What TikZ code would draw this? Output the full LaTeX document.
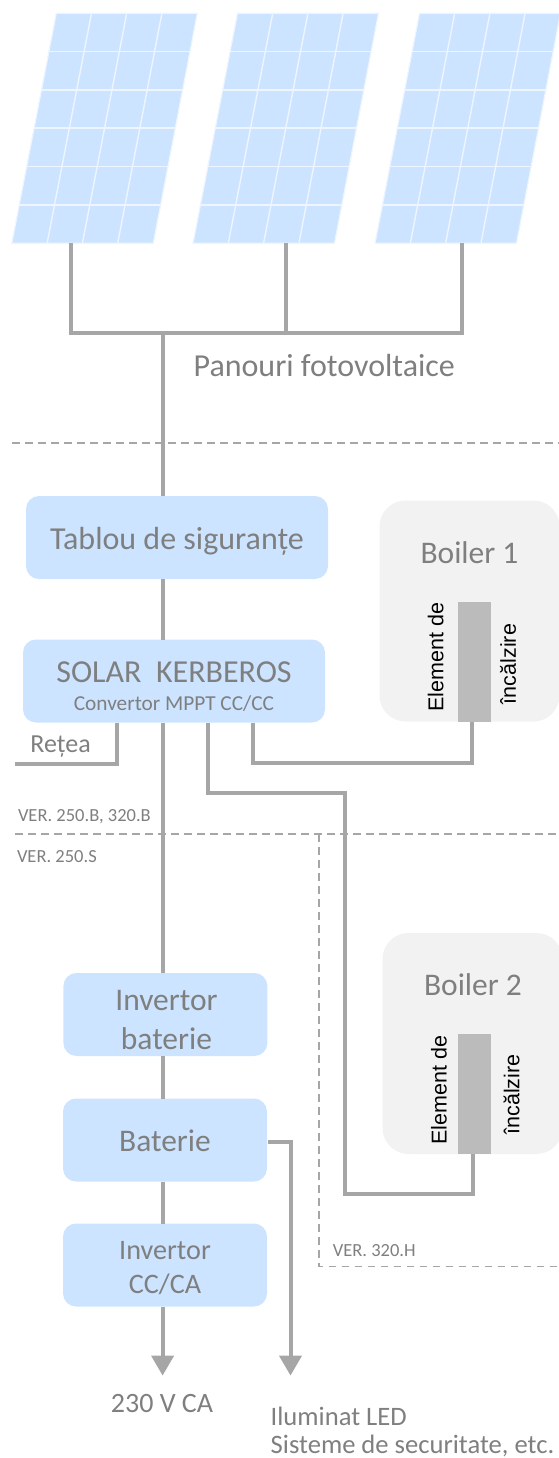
\documentclass[tikz,border=0pt]{standalone}
\usepackage{fontspec}
\setmainfont{Carlito}
\newfontfamily\elemfont{Liberation Sans}
\usetikzlibrary{arrows.meta}
\definecolor{panelblue}{HTML}{CCE4FF}
\definecolor{paneledge}{HTML}{EEF5FE}
\definecolor{wiregray}{HTML}{A6A6A6}
\definecolor{textgray}{HTML}{7F7F7F}
\definecolor{boilergray}{HTML}{F2F2F2}
\definecolor{bargray}{HTML}{BBBBBB}
\begin{document}
\begin{tikzpicture}[
            x=1pt, y=-1pt,
            box/.style={
                rectangle,
                fill=panelblue,
                rounded corners=13pt,
                inner sep=0pt,
                outer sep=0pt,
                minimum width=#1,
                minimum height=83pt
            },
            box/.default=204pt,
            boiler/.style={
                rectangle,
                fill=boilergray,
                rounded corners=26pt,
                inner sep=0pt,
                outer sep=0pt,
                minimum width=180pt,
                minimum height=221pt
            },
            bar/.style={
                rectangle,
                fill=bargray,
                inner sep=0pt,
                outer sep=0pt,
                minimum width=33.5pt,
                minimum height=120pt
            },
            label/.style={
                inner sep=0pt,
                align=center,
                text=textgray,
                font=\fontsize{32}{38}\selectfont
            },
            small/.style={
                inner sep=0pt,
                anchor=west,
                text=textgray,
                font=\fontsize{18.5}{22}\selectfont
            },
            elem/.style={
                inner sep=0pt,
                rotate=90,
                font=\elemfont\fontsize{21.5}{25}\selectfont
            },
            wire/.style={draw=wiregray, line width=4pt},
            arrow/.style={wire, -{Triangle[width=22pt,length=20pt]}},
            limit/.style={draw=wiregray, line width=1.2pt, dash pattern=on 7.5pt off 5.5pt}
        ]
        \useasboundingbox (0,0) rectangle (559,1458);

        % Solar panels
        \foreach \px in {11.8, 193, 375} {
            \fill[panelblue, draw=paneledge, line width=1.2pt]
                ({\px+44.5},13.3) -- ({\px+185.5},13.3) -- ({\px+141.5},243.3) -- (\px,243.3) -- cycle;
            \foreach \i in {1,2,3}
                \draw[paneledge, line width=1.4pt] ({\px+44.5+\i*35.2},13.3) -- ({\px+\i*35.3},243.3);
            \foreach \j in {1,...,5}
                \draw[paneledge, line width=1.4pt] ({\px+44.5*(1-\j/6)},{13.3+\j*38.3}) -- ({\px+141.5+44*(1-\j/6)},{13.3+\j*38.3});
        }
        \coordinate (c1) at (71.3,243.3);
        \coordinate (c2) at (286,243.3);
        \coordinate (c3) at (462.4,243.3);
        \coordinate (bus1) at (71.3,333);
        \coordinate (bus2) at (286,333);
        \coordinate (bus3) at (462.4,333);
        \coordinate (stem) at (162.6,333);

        % Version limits
        \coordinate (lim1l) at (12,443);
        \coordinate (lim1r) at (559,443);
        \coordinate (lim2l) at (15,834);
        \coordinate (lim2r) at (559,834);
        \coordinate (lim3t) at (319,834);
        \coordinate (lim3b) at (319,1266.5);
        \coordinate (lim3r) at (559,1266.5);
        \draw[limit] (lim1l) -- (lim1r);
        \draw[limit] (lim2l) -- (lim2r);
        \draw[limit] (lim3t) -- (lim3b) -- (lim3r);

        % Main boxes
        \node[box=302pt] (tablou) at (177,537.5) {};
        \node[box=302pt] (solar) at (174,681) {};
        \node[box] (invbat) at (165.4,1014.5) {};
        \node[box] (baterie) at (165,1140) {};
        \node[box] (invca) at (165,1265) {};

        % Box titles
        \node[label] (tablout) at (177,541.5) {Tablou de siguranțe};
        \node[label] (solart) at (174,672.5) {SOLAR\ \ KERBEROS};
        \node[label, font=\fontsize{21.3}{25}\selectfont] (solars) at (174,704) {Convertor MPPT CC/CC};
        \node[label, font=\fontsize{31.5}{39}\selectfont] (invbatt) at (166.5,1019.5) {Invertor\\baterie};
        \node[label, font=\fontsize{31.5}{39}\selectfont] (bateriet) at (165,1141) {Baterie};
        \node[label, font=\fontsize{28.2}{34}\selectfont] (invcat) at (165,1268) {Invertor\\CC/CA};

        % Boilers
        \node[boiler] (boil1) at (469.5,611) {};
        \node[boiler] (boil2) at (472.5,1043.5) {};
        \node[bar] (bar1) at (474.5,662.2) {};
        \node[bar] (bar2) at (474.5,1094) {};
        \node[label, font=\fontsize{31.5}{38}\selectfont] (b1t) at (469.5,553) {Boiler 1};
        \node[label, font=\fontsize{31.5}{38}\selectfont] (b2t) at (473,985) {Boiler 2};
        \node[elem] (e11) at (435.7,657) {Element de};
        \node[elem] (e12) at (508,664) {încălzire};
        \node[elem] (e21) at (439,1090) {Element de};
        \node[elem] (e22) at (511.6,1094.5) {încălzire};

        % Connecting wires
        \draw[wire] (c1) -- (bus1) -- (bus3) -- (c3);
        \draw[wire] (c2) -- (bus2);
        \draw[wire] (stem) -- (stem |- tablou.north);
        \draw[wire] (stem |- tablou.south) -- (stem |- solar.north);
        \draw[wire] (stem |- solar.south) -- (stem |- invbat.north);
        \draw[wire] (stem |- invbat.south) -- (stem |- baterie.north);
        \draw[wire] (stem |- baterie.south) -- (stem |- invca.north);

        \coordinate (retea1) at (117,722.7);
        \coordinate (retea2) at (117,764);
        \coordinate (retea3) at (15.3,764);
        \draw[wire] (retea1) -- (retea2) -- (retea3);

        \coordinate (w1a) at (253,722.7);
        \coordinate (w1b) at (253,763.3);
        \coordinate (w1c) at (472.4,763.3);
        \draw[wire] (w1a) -- (w1b) -- (w1c) -- (w1c |- bar1.south);

        \coordinate (w2a) at (207.8,722.7);
        \coordinate (w2b) at (207.8,792.7);
        \coordinate (w2c) at (345,792.7);
        \coordinate (w2d) at (345,1194.4);
        \coordinate (w2e) at (473,1194.4);
        \draw[wire] (w2a) -- (w2b) -- (w2c) -- (w2d) -- (w2e) -- (w2e |- bar2.south);

        % Outputs
        \coordinate (out1) at (162.6,1375.6);
        \coordinate (led1) at (268,1142.3);
        \coordinate (led2) at (290.5,1142.3);
        \coordinate (out2) at (290.5,1375.6);
        \draw[arrow] (stem |- invca.south) -- (out1);
        \draw[arrow] (led1) -- (led2) -- (out2);

        % Texts
        \node[label] (panouri) at (324.3,365.5) {Panouri fotovoltaice};
        \node[label, font=\fontsize{26}{30}\selectfont] (retea) at (60.6,746.7) {Rețea};
        \node[small] (v1) at (17.8,817) {VER. 250.B, 320.B};
        \node[small] (v2) at (16.8,857) {VER. 250.S};
        \node[small] (v3) at (332.6,1251) {VER. 320.H};
        \node[label, font=\fontsize{28}{32}\selectfont] (v230) at (162,1403.7) {230 V CA};
        \node[label, anchor=base west, font=\fontsize{26.6}{30}\selectfont] (led) at (270.5,1425.5) {Iluminat LED};
        \node[label, anchor=base west, font=\fontsize{26.6}{30}\selectfont] (secur) at (270.5,1453) {Sisteme de securitate, etc.};

        \end{tikzpicture}
\end{document}
